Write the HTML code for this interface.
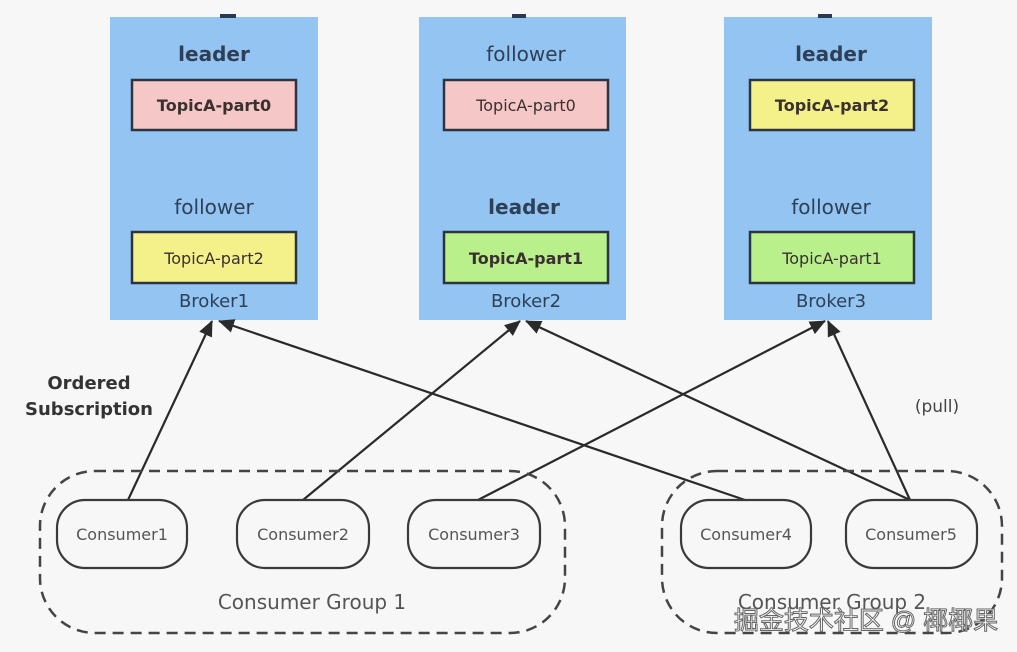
<!DOCTYPE html>
<html><head><meta charset="utf-8"><style>
html,body{margin:0;padding:0;background:#f7f7f7;}
svg{display:block;}
text{font-family:"DejaVu Sans","Liberation Sans",sans-serif;}
</style></head><body>
<svg width="1017" height="652" viewBox="0 0 1017 652" xmlns="http://www.w3.org/2000/svg">
<defs>
<marker id="b" markerWidth="16" markerHeight="14" refX="15" refY="7" orient="auto" markerUnits="userSpaceOnUse" viewBox="0 0 16 14">
<path d="M0,0 L16,7 L0,14 z" fill="#2a2a2a"/></marker>
</defs>
<rect width="1017" height="652" fill="#f7f7f7"/>
<rect x="110" y="17" width="208" height="303" fill="#93c4f2"/>
<rect x="419" y="17" width="207" height="303" fill="#93c4f2"/>
<rect x="724" y="17" width="208" height="303" fill="#93c4f2"/>
<rect x="220" y="14" width="16" height="4" fill="#2a3a50"/>
<rect x="512" y="14" width="14" height="4" fill="#2a3a50"/>
<rect x="818" y="14" width="14" height="4" fill="#2a3a50"/>
<g fill="#2e4057" font-size="20" text-anchor="middle">
<text x="214" y="61" font-weight="bold">leader</text>
<text x="214" y="214">follower</text>
<text x="214" y="307" font-size="18">Broker1</text>
<text x="526" y="61">follower</text>
<text x="524" y="214" font-weight="bold">leader</text>
<text x="526" y="307" font-size="18">Broker2</text>
<text x="831" y="61" font-weight="bold">leader</text>
<text x="831" y="214">follower</text>
<text x="831" y="307" font-size="18">Broker3</text>
</g>
<g stroke="#2c3440" stroke-width="2.5">
<rect x="132" y="80" width="164" height="50" fill="#f6c7c7"/>
<rect x="132" y="232" width="164" height="51" fill="#f5f18a"/>
<rect x="444" y="80" width="164" height="50" fill="#f6c7c7"/>
<rect x="444" y="232" width="164" height="51" fill="#b9f08c"/>
<rect x="750" y="80" width="164" height="50" fill="#f5f18a"/>
<rect x="750" y="232" width="164" height="51" fill="#b9f08c"/>
</g>
<g fill="#3a3030" font-size="16" text-anchor="middle">
<text x="214" y="111" font-weight="bold">TopicA-part0</text>
<text x="214" y="264">TopicA-part2</text>
<text x="526" y="111">TopicA-part0</text>
<text x="526" y="264" font-weight="bold">TopicA-part1</text>
<text x="832" y="111" font-weight="bold">TopicA-part2</text>
<text x="832" y="264">TopicA-part1</text>
</g>
<g stroke="#2a2a2a" stroke-width="2.2" fill="none" marker-end="url(#b)">
<line x1="128" y1="500" x2="212" y2="321"/>
<line x1="745" y1="500" x2="219" y2="321"/>
<line x1="303" y1="500" x2="520" y2="321"/>
<line x1="910" y1="500" x2="526" y2="321"/>
<line x1="478" y1="500" x2="825" y2="321"/>
<line x1="910" y1="500" x2="828" y2="321"/>
</g>
<g stroke="#444" stroke-width="2.5" fill="none" stroke-dasharray="11,7">
<rect x="40" y="471" width="525" height="162" rx="55"/>
<rect x="662" y="471" width="340" height="162" rx="55"/>
</g>
<g stroke="#3a3a3a" stroke-width="2.2" fill="#f7f7f7">
<rect x="57" y="500" width="130" height="68" rx="28"/>
<rect x="237" y="500" width="132" height="68" rx="28"/>
<rect x="408" y="500" width="132" height="68" rx="28"/>
<rect x="681" y="500" width="130" height="68" rx="28"/>
<rect x="846" y="500" width="131" height="68" rx="28"/>
</g>
<g fill="#555" font-size="16" text-anchor="middle">
<text x="122" y="540">Consumer1</text>
<text x="303" y="540">Consumer2</text>
<text x="474" y="540">Consumer3</text>
<text x="746" y="540">Consumer4</text>
<text x="911" y="540">Consumer5</text>
<text x="312" y="609" font-size="20">Consumer Group 1</text>
<text x="832" y="609" font-size="20">Consumer Group 2</text>
</g>
<g fill="#333" font-size="18" font-weight="bold" text-anchor="middle">
<text x="89" y="389">Ordered</text>
<text x="89" y="415">Subscription</text>
</g>
<text x="937" y="412" fill="#444" font-size="17" text-anchor="middle">(pull)</text>
<text x="866" y="629" font-size="25" text-anchor="middle" fill="#ffffff" stroke="#666" stroke-width="1" style="font-family:'Liberation Sans','Noto Sans CJK SC',sans-serif">掘金技术社区 @ 椰椰果</text>
</svg>
</body></html>
